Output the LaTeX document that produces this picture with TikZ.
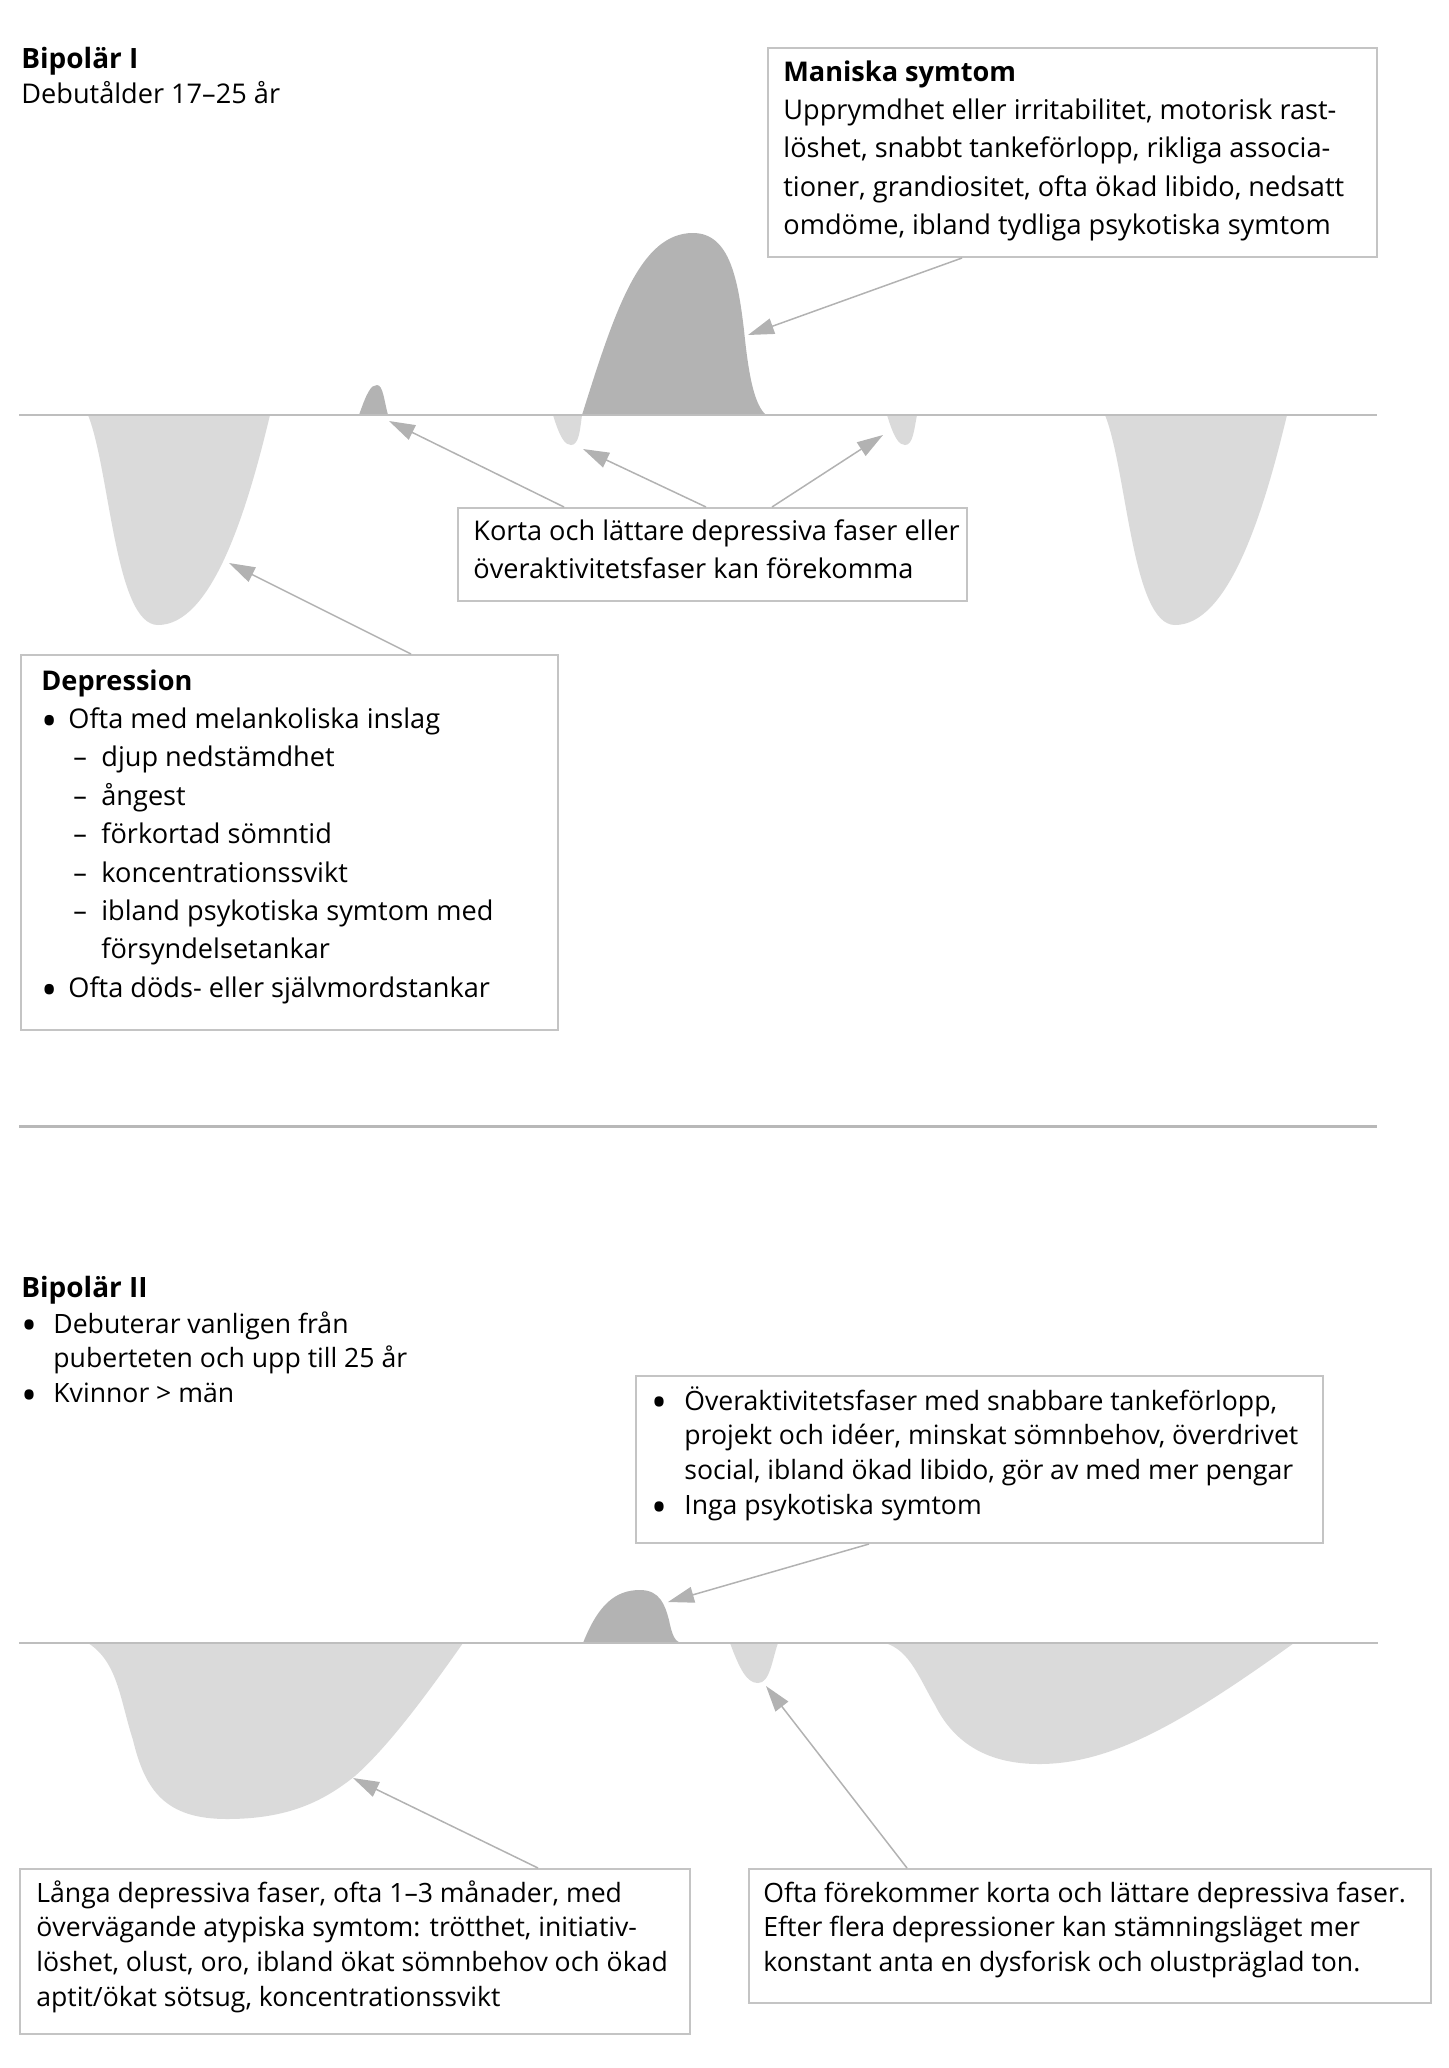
\documentclass[tikz,border=0pt]{standalone}
\usepackage{fontspec}
\usepackage{tikz}
\usepackage{graphicx}
\usetikzlibrary{arrows.meta,calc}
\setmainfont{Open Sans}
\definecolor{maniafill}{RGB}{179,179,179}
\definecolor{deprfill}{RGB}{218,218,218}
\definecolor{axisgray}{RGB}{190,190,190}
\definecolor{boxgray}{RGB}{196,196,196}
\definecolor{arrowgray}{RGB}{178,178,178}
\definecolor{sepgray}{RGB}{184,184,184}
\newlength\refw
\settowidth\refw{\fontsize{10pt}{12pt}\selectfont Upprymdhet eller irritabilitet, motorisk rast-}
\pgfmathsetmacro\bodysize{10*276.5/\refw}
\pgfmathsetmacro\bodysizeII{0.98*\bodysize}
\newlength\reftw
\settowidth\reftw{\fontsize{10pt}{12pt}\selectfont\bfseries Bipolär I}
\pgfmathsetmacro\titlesize{10*58.5/\reftw}
\newcommand\bodyI{\fontsize{\bodysize pt}{19.2pt}\selectfont}
\newcommand\bodyII{\fontsize{\bodysizeII pt}{17.4pt}\selectfont}
\newcommand\titlefont{\fontsize{\titlesize pt}{18pt}\selectfont\bfseries}
\newcommand\lines[1]{\vtop{\halign{##\hfil\cr#1\crcr}}}
\newcommand\bul[1]{\makebox[#1][l]{\raisebox{-0.3em}{\scalebox{1.6}{•}}}}
\newcommand\dsh{\hspace*{16pt}\makebox[14pt][l]{–}}
\begin{document}
\begin{tikzpicture}[x=0.5pt,y=-0.5pt,
  box/.style={draw=boxgray, line width=1pt, inner sep=0pt, anchor=north west},
  txt/.style={inner sep=0pt, anchor=base west},
  axisline/.style={draw=axisgray, line width=1pt},
  sepline/.style={draw=sepgray, line width=1.5pt},
  arrowline/.style={draw=arrowgray, line width=0.75pt, -{Triangle[length=13pt,width=8pt]}}]
\useasboundingbox (0,0) rectangle (1448,2068);

% ---------------- Bipolar I ----------------
\node[txt] (t1) at (21,68) {\titlefont Bipolär I};
\node[txt] (t1b) at (21,103) {\bodyI Debutålder 17–25 år};

% shapes
\fill[deprfill] (88,415) .. controls (110,470) and (115,625) .. (158,625) .. controls (210,625) and (245,520) .. (270,415) -- cycle;
\fill[deprfill, shift={(1017,0)}] (88,415) .. controls (110,470) and (115,625) .. (158,625) .. controls (210,625) and (245,520) .. (270,415) -- cycle;
\fill[maniafill] (359,415) .. controls (367,392) and (371,385) .. (377,385) .. controls (383,385) and (384,400) .. (388,415) -- cycle;
\fill[deprfill] (553,415) .. controls (560,438) and (565,445) .. (571,445) .. controls (579,445) and (580,430) .. (582,415) -- cycle;
\fill[maniafill] (582,415) .. controls (615,310) and (640,233) .. (693,233) .. controls (730,233) and (738,280) .. (744,330) .. controls (749,380) and (755,405) .. (766,415) -- cycle;
\fill[deprfill] (887,415) .. controls (894,438) and (899,445) .. (905,445) .. controls (913,445) and (914,430) .. (917,415) -- cycle;
\draw[axisline] (19,415) -- (1377,415);

% boxes
\node[box, minimum width=304.5pt, minimum height=104.5pt] (mbox) at (767,47) {};
\node[txt] (mtext) at (783,81) {\bodyI\lines{\textbf{Maniska symtom}\cr
Upprymdhet eller irritabilitet, motorisk rast-\cr
löshet, snabbt tankeförlopp, rikliga associa-\cr
tioner, grandiositet, ofta ökad libido, nedsatt\cr
omdöme, ibland tydliga psykotiska symtom}};

\node[box, minimum width=254.5pt, minimum height=46.5pt] (kbox) at (457,507) {};
\node[txt] (ktext) at (473,540) {\bodyI\lines{Korta och lättare depressiva faser eller\cr
överaktivitetsfaser kan förekomma}};

\node[box, minimum width=268.5pt, minimum height=187.5pt] (dbox) at (20,654) {};
\node[txt] (dtext) at (41,690) {\bodyI\lines{\textbf{Depression}\cr
\bul{13.5pt}Ofta med melankoliska inslag\cr
\dsh djup nedstämdhet\cr
\dsh ångest\cr
\dsh förkortad sömntid\cr
\dsh koncentrationssvikt\cr
\dsh ibland psykotiska symtom med\cr
\hspace*{30pt}försyndelsetankar\cr
\bul{13.5pt}Ofta döds- eller självmordstankar}};

% arrow tips
\coordinate (humpI) at (389,421);
\coordinate (dipIa) at (583,449);
\coordinate (dipIb) at (883,435);
\coordinate (maniaTip) at (748,335);
\coordinate (deprTip) at (229,563);

\draw[arrowline] ($(mbox.south west)+(195,0)$) -- (maniaTip);
\draw[arrowline] ($(kbox.north west)+(107,0)$) -- (humpI);
\draw[arrowline] ($(kbox.north west)+(249,0)$) -- (dipIa);
\draw[arrowline] ($(kbox.north west)+(315,0)$) -- (dipIb);
\draw[arrowline] ($(dbox.north west)+(391,0)$) -- (deprTip);

% separator
\draw[sepline] (19,1126) -- (1377,1126);

% ---------------- Bipolar II ----------------
\node[txt] (t2) at (21,1297) {\titlefont Bipolär II};
\node[txt] (t2b) at (21,1333) {\bodyII\lines{\bul{16pt}Debuterar vanligen från\cr
\hspace*{16pt}puberteten och upp till 25 år\cr
\bul{16pt}Kvinnor > män}};

\fill[deprfill] (88,1643) .. controls (118,1662) and (120,1700) .. (133,1740) .. controls (145,1790) and (165,1819) .. (227,1819) .. controls (290,1819) and (325,1800) .. (355,1776) .. controls (390,1745) and (430,1690) .. (463,1643) -- cycle;
\fill[maniafill] (583,1643) .. controls (598,1605) and (615,1590) .. (640,1590) .. controls (660,1590) and (665,1605) .. (669,1620) .. controls (672,1635) and (675,1643) .. (683,1643) -- cycle;
\fill[deprfill] (730,1643) .. controls (740,1670) and (747,1683) .. (758,1683) .. controls (770,1683) and (772,1660) .. (778,1643) -- cycle;
\fill[deprfill] (885,1643) .. controls (910,1650) and (920,1680) .. (935,1705) .. controls (955,1745) and (990,1764) .. (1039,1764) .. controls (1110,1764) and (1180,1725) .. (1294,1643) -- cycle;
\draw[axisline] (19,1643) -- (1378,1643);

\node[box, minimum width=343.5pt, minimum height=83.5pt] (obox) at (635,1375) {};
\node[txt] (otext) at (651,1410) {\bodyII\lines{\bul{16.5pt}Överaktivitetsfaser med snabbare tankeförlopp,\cr
\hspace*{16.5pt}projekt och idéer, minskat sömnbehov, överdrivet\cr
\hspace*{16.5pt}social, ibland ökad libido, gör av med mer pengar\cr
\bul{16.5pt}Inga psykotiska symtom}};

\node[box, minimum width=335pt, minimum height=82.5pt] (lbox) at (19,1868) {};
\node[txt] (ltext) at (36,1902) {\bodyII\lines{Långa depressiva faser, ofta 1–3 månader, med\cr
övervägande atypiska symtom: trötthet, initiativ-\cr
löshet, olust, oro, ibland ökat sömnbehov och ökad\cr
aptit/ökat sötsug, koncentrationssvikt}};

\node[box, minimum width=341pt, minimum height=67pt] (sbox) at (748,1868) {};
\node[txt] (stext) at (763,1902) {\bodyII\lines{Ofta förekommer korta och lättare depressiva faser.\cr
Efter flera depressioner kan stämningsläget mer\cr
konstant anta en dysforisk och olustpräglad ton.}};

\coordinate (hypoTip) at (668,1602);
\coordinate (longTip) at (353,1778);
\coordinate (shortTip) at (766,1686);

\draw[arrowline] ($(obox.south west)+(234,0)$) -- (hypoTip);
\draw[arrowline] ($(lbox.north west)+(519,0)$) -- (longTip);
\draw[arrowline] ($(sbox.north west)+(159,0)$) -- (shortTip);
\end{tikzpicture}
\end{document}
